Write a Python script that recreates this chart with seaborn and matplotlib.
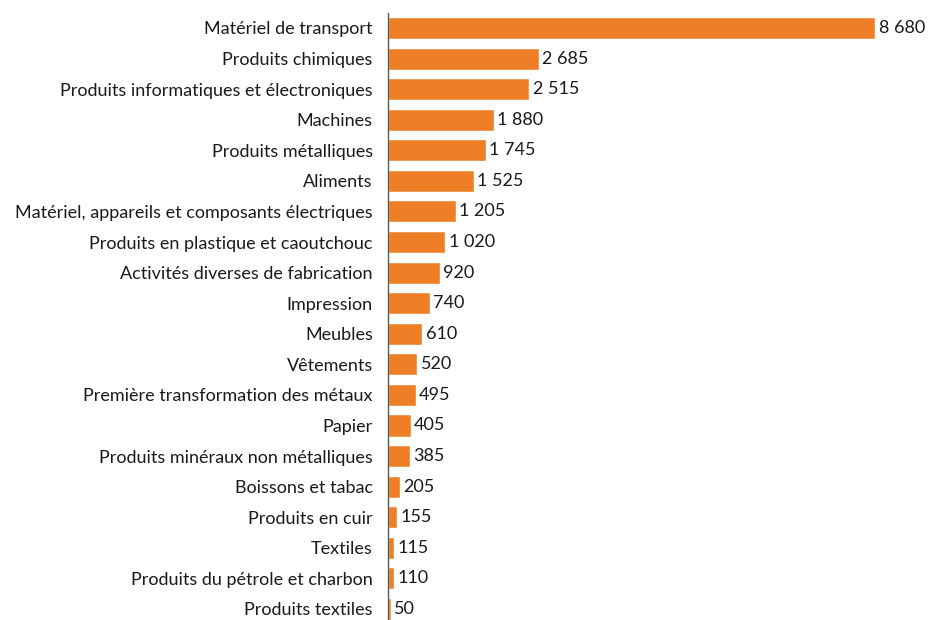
import matplotlib
matplotlib.use("Agg")
import matplotlib.pyplot as plt
import seaborn as sns
import numpy as np
import pandas as pd

# data
categories = [
    "Matériel de transport",
    "Produits chimiques",
    "Produits informatiques et électroniques",
    "Machines",
    "Produits métalliques",
    "Aliments",
    "Matériel, appareils et composants électriques",
    "Produits en plastique et caoutchouc",
    "Activités diverses de fabrication",
    "Impression",
    "Meubles",
    "Vêtements",
    "Première transformation des métaux",
    "Papier",
    "Produits minéraux non métalliques",
    "Boissons et tabac",
    "Produits en cuir",
    "Textiles",
    "Produits du pétrole et charbon",
    "Produits textiles",
]
values = [8680, 2685, 2515, 1880, 1745, 1525, 1205, 1020, 920, 740,
          610, 520, 495, 405, 385, 205, 155, 115, 110, 50]

df = pd.DataFrame({"categorie": categories, "valeur": values})

sns.set_style("white")
plt.rcParams['font.family'] = ['Lato', 'DejaVu Sans']

fig = plt.figure(figsize=(9.4, 6.2), dpi=100)
ax = fig.add_axes([0.4128, -0.0069, 0.577, 0.9865])

sns.barplot(data=df, y="categorie", x="valeur", orient="h",
            color="#EE7F27", saturation=1, width=0.72, ax=ax)

ax.set_xlim(0, 9660)
ax.set_ylim(len(categories) - 0.5, -0.5)
ax.set_xlabel("")
ax.set_ylabel("")
ax.set_xticks([])

for s in ["top", "right", "bottom"]:
    ax.spines[s].set_visible(False)
ax.spines["left"].set_color("#595959")
ax.spines["left"].set_linewidth(1.0)

ax.tick_params(axis="y", which="major", length=0, pad=11, labelsize=13,
               labelcolor="#1a1a1a")
ax.set_yticks(np.arange(-0.5, len(categories), 1), minor=True)
ax.tick_params(axis="y", which="minor", length=5, color="#595959", width=1.0)

# value labels
for i, v in enumerate(values):
    txt = f"{v:,}".replace(",", " ")
    ax.text(v + 60, i, txt, va="center", ha="left", fontsize=13,
            color="#1a1a1a")

fig.savefig("out.png", dpi=100)
